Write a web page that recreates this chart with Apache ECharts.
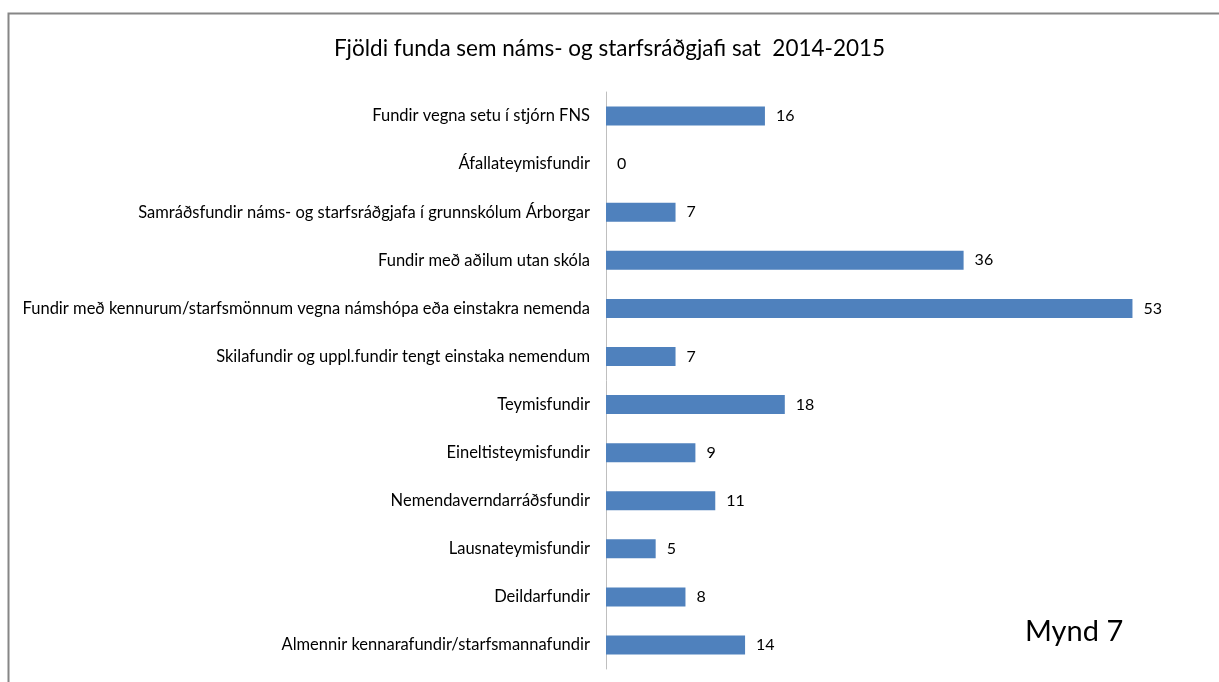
<!DOCTYPE html>
<html lang="is">
<head>
<meta charset="UTF-8">
<title>Mynd 7</title>
<script src="https://cdn.jsdelivr.net/npm/echarts@6.0.0/dist/echarts.min.js"></script>
<style>
  html, body { margin: 0; padding: 0; background: #fff; }
  #chart { width: 1219px; height: 682px; }
</style>
</head>
<body>
<div id="chart"></div>
<script>
// flokkar, efst til neðst
const categories = [
  'Fundir vegna setu í stjórn FNS',
  'Áfallateymisfundir',
  'Samráðsfundir náms- og starfsráðgjafa í grunnskólum Árborgar',
  'Fundir með aðilum utan skóla',
  'Fundir með kennurum/starfsmönnum vegna námshópa eða einstakra nemenda',
  'Skilafundir og uppl.fundir tengt einstaka nemendum',
  'Teymisfundir',
  'Eineltisteymisfundir',
  'Nemendaverndarráðsfundir',
  'Lausnateymisfundir',
  'Deildarfundir',
  'Almennir kennarafundir/starfsmannafundir'
];
const meetings = [16, 0, 7, 36, 53, 7, 18, 9, 11, 5, 8, 14];

const titleText = 'Fjöldi funda sem náms- og starfsráðgjafi sat  2014-2015';
const captionText = 'Mynd 7';

const font = 'Lato, "Open Sans", sans-serif';

window.onload = function () {
  var myChart = echarts.init(document.getElementById('chart'));

  let option = {
    animation: false,
    title: {
      text: titleText,
      left: 'center',
      top: 32,
      textStyle: { fontFamily: font, fontSize: 22.5, fontWeight: 'normal', color: '#000' }
    },
    grid: { left: 606, right: 17, top: 92, bottom: 13, containLabel: false },
    xAxis: {
      type: 'value',
      min: 0,
      max: 60,
      show: false
    },
    yAxis: {
      type: 'category',
      inverse: true,
      data: categories,
      axisLine: { show: true, lineStyle: { color: '#BFBFBF', width: 1 } },
      axisTick: { show: false },
      axisLabel: { margin: 16, fontFamily: font, fontSize: 16.5, color: '#000' }
    },
    series: [{
      type: 'bar',
      data: meetings,
      barWidth: 19,
      itemStyle: { color: '#4F81BD' },
      label: {
        show: true,
        position: 'right',
        distance: 11,
        fontFamily: font,
        fontSize: 16,
        color: '#000'
      }
    }],
    graphic: [
      {
        type: 'rect',
        shape: { x: 8.5, y: 13.5, width: 1230, height: 700 },
        style: { fill: 'none', stroke: '#868686', lineWidth: 2 },
        silent: true
      },
      {
        type: 'text',
        left: 1025,
        top: 617,
        style: { text: captionText, font: '29px ' + font, fill: '#000' }
      }
    ]
  };

  myChart.setOption(option);
};
</script>
</body>
</html>
